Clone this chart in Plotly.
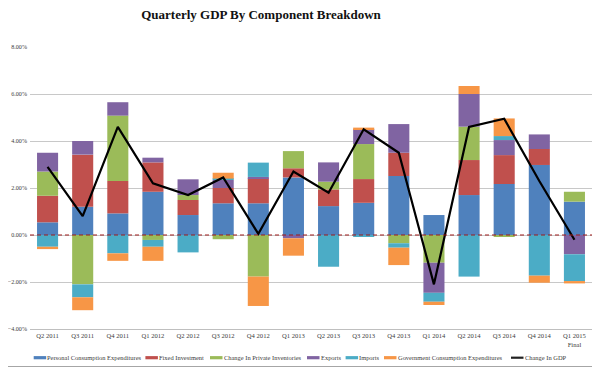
import plotly.graph_objects as go

quarters = ["Q2 2011", "Q3 2011", "Q4 2011", "Q1 2012", "Q2 2012", "Q3 2012", "Q4 2012", "Q1 2013",
            "Q2 2013", "Q3 2013", "Q4 2013", "Q1 2014", "Q2 2014", "Q3 2014", "Q4 2014", "Q1 2015"]
tick_labels = ["Q2 2011", "Q3 2011", "Q4 2011", "Q1 2012", "Q2 2012", "Q3 2012", "Q4 2012", "Q1 2013",
               "Q2 2013", "Q3 2013", "Q4 2013", "Q1 2014", "Q2 2014", "Q3 2014", "Q4 2014", "Q1 2015<br>Final"]

pce = [0.54, 1.20, 0.92, 1.84, 0.85, 1.35, 1.35, 2.45, 1.23, 1.37, 2.51, 0.85, 1.70, 2.17, 2.98, 1.42]
fixed_inv = [1.13, 2.22, 1.38, 1.25, 0.64, 0.65, 1.06, 0.39, 0.71, 1.01, 0.99, 0.00, 1.49, 1.23, 0.68, 0.00]
inventories = [1.03, -2.10, 2.78, -0.21, 0.21, -0.18, -1.77, 0.73, 0.33, 1.49, -0.35, -1.18, 1.42, -0.07, 0.00, 0.42]
exports = [0.80, 0.58, 0.57, 0.20, 0.67, 0.35, 0.06, -0.14, 0.82, 0.64, 1.22, -1.28, 1.39, 0.64, 0.62, -0.82]
imports = [-0.50, -0.55, -0.78, -0.29, -0.74, 0.05, 0.61, 0.00, -1.35, -0.07, -0.19, -0.38, -1.77, 0.17, -1.73, -1.14]
government = [-0.10, -0.55, -0.32, -0.60, 0.00, 0.25, -1.25, -0.74, 0.00, 0.06, -0.74, -0.14, 0.34, 0.75, -0.30, -0.10]
gdp = [2.9, 0.8, 4.6, 2.2, 1.7, 2.45, 0.05, 2.7, 1.8, 4.5, 3.5, -2.1, 4.6, 4.95, 2.3, -0.2]

series_names = ["Personal Consumption Expenditures", "Fixed Investment", "Change In Private Inventories",
                "Exports", "Imports", "Government Consumption Expenditures"]
series_values = [pce, fixed_inv, inventories, exports, imports, government]
series_colors = ["#4F81BD", "#C0504D", "#9BBB59", "#8064A2", "#4BACC6", "#F79646"]
line_name = "Change In GDP"

# the page has an 8px body margin; layout numbers below are in page pixels
OFF = 8
W, H = 600, 369
ML, MR, MT, MB = 22, 16, 39, 48
PW, PH = W - ML - MR, H - MT - MB


def px_x(page_x):
    return (page_x - OFF - ML) / PW


def px_y(page_y):
    return (H - MB - (page_y - OFF)) / PH


fig = go.Figure()
for name, vals, col in zip(series_names, series_values, series_colors):
    fig.add_trace(go.Bar(x=quarters, y=vals, name=name, marker=dict(color=col, line=dict(width=0)),
                         showlegend=False))
fig.add_trace(go.Scatter(x=quarters, y=gdp, name=line_name, mode="lines",
                         line=dict(color="black", width=2.2), showlegend=False))

serif = "Liberation Serif"
shapes = [
    dict(type="line", xref="paper", yref="y", x0=0, x1=1, y0=0, y1=0,
         line=dict(color="#9E1B1B", width=1.2, dash="4px,3px"), layer="above"),
    dict(type="line", xref="paper", yref="paper", x0=px_x(595.5), x1=px_x(595.5),
         y0=px_y(366.5), y1=px_y(8), line=dict(color="#A6A6A6", width=1), layer="below"),
    dict(type="line", xref="paper", yref="paper", x0=px_x(8), x1=px_x(595.5),
         y0=px_y(366.5), y1=px_y(366.5), line=dict(color="#A6A6A6", width=1), layer="below"),
]
annotations = []

# custom legend
sym_x = [33.7, 145.4, 210, 307, 345.6, 384, 511]
leg_y = 357.7
leg_names = series_names + [line_name]
leg_colors = series_colors + ["#222222"]
for i, (nm, col) in enumerate(zip(leg_names, leg_colors)):
    sx = sym_x[i]
    if i < len(series_names):
        shapes.append(dict(type="rect", xref="paper", yref="paper", x0=px_x(sx), x1=px_x(sx + 12.5),
                           y0=px_y(leg_y + 1.6), y1=px_y(leg_y - 1.6), fillcolor=col,
                           line=dict(width=0)))
    else:
        shapes.append(dict(type="line", xref="paper", yref="paper", x0=px_x(sx), x1=px_x(sx + 12.5),
                           y0=px_y(leg_y), y1=px_y(leg_y), line=dict(color=col, width=2.2)))
    annotations.append(dict(xref="paper", yref="paper", x=px_x(sx + 11.5), y=px_y(leg_y),
                            xanchor="left", yanchor="middle", text=nm, showarrow=False,
                            font=dict(family=serif, size=6.45, color="#404040")))

fig.update_layout(
    width=W, height=H,
    margin=dict(l=ML, r=MR, t=MT, b=MB, pad=0, autoexpand=False),
    paper_bgcolor="white", plot_bgcolor="white",
    barmode="relative", bargap=0.4,
    title=dict(text="Quarterly GDP By Component Breakdown", x=(261 - OFF) / W, xanchor="center",
               xref="container", yref="container", y=1 - (14.5 - OFF) / H, yanchor="middle",
               font=dict(family=serif, size=13, color="#111111", weight="bold")),
    xaxis=dict(tickmode="array", tickvals=quarters, ticktext=tick_labels, automargin=False,
               showgrid=False, showline=True, linecolor="#BFBFBF", linewidth=1,
               ticks="", tickfont=dict(family=serif, size=6.6, color="#404040"),
               range=[-0.5, len(quarters) - 0.5], fixedrange=True),
    yaxis=dict(range=[-4, 8], dtick=2, tickformat=".2f", ticksuffix="%", automargin=False,
               showgrid=True, gridcolor="#C8C8C8", gridwidth=1, zeroline=False,
               showline=False, ticks="", ticklabelstandoff=2,
               tickfont=dict(family=serif, size=6.1, color="#404040"), fixedrange=True),
    shapes=shapes,
    annotations=annotations,
)

fig.write_html("out.html")
